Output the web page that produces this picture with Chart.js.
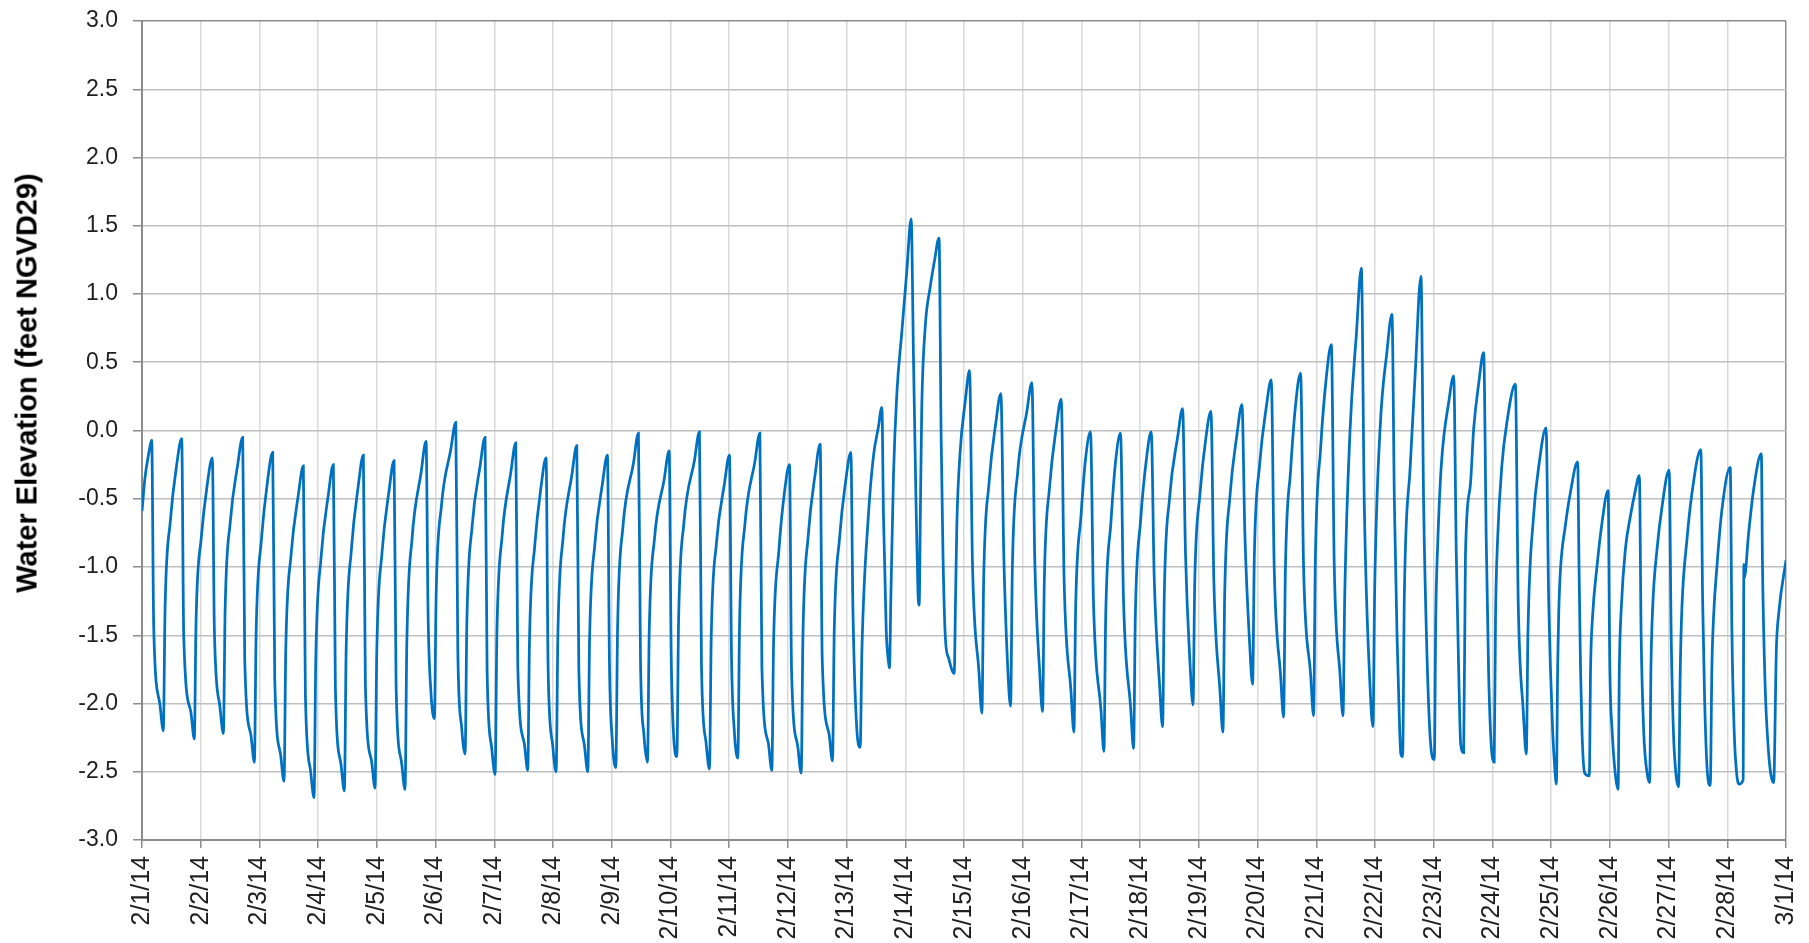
<!DOCTYPE html>
<html>
<head>
<meta charset="utf-8">
<script src="https://cdn.jsdelivr.net/npm/chart.js@4.4.1/dist/chart.umd.min.js"></script>
<style>
  html, body { margin: 0; padding: 0; background: #fff; }
  #wrap { position: relative; width: 1809px; height: 943px; }
  #yTitle {
    position: absolute; left: 27px; top: 383px;
    transform: translate(-50%, -50%) rotate(-90deg);
    font: bold 29px "Liberation Sans", Arial, sans-serif;
    color: #000; white-space: nowrap;
  }
</style>
</head>
<body>
<div id="wrap">
  <canvas id="tideChart" width="1809" height="943"></canvas>
  <div id="yTitle">Water Elevation (feet NGVD29)</div>
</div>
<script>
// Tick labels, one per day
const dateLabels = ['2/1/14','2/2/14','2/3/14','2/4/14','2/5/14','2/6/14','2/7/14','2/8/14','2/9/14','2/10/14',
  '2/11/14','2/12/14','2/13/14','2/14/14','2/15/14','2/16/14','2/17/14','2/18/14','2/19/14','2/20/14',
  '2/21/14','2/22/14','2/23/14','2/24/14','2/25/14','2/26/14','2/27/14','2/28/14','3/1/14'];

// Readings: days since 2/1/14 00:00 and water elevation (ft)
// week 1
const week1Days = [0.000,0.050,0.110,0.165,
  0.200,0.303,0.363,0.393,0.483,0.591,0.676,
  0.711,0.831,0.891,0.921,1.011,1.113,1.198,
  1.233,1.326,1.386,1.416,1.506,1.630,1.715,
  1.750,1.854,1.914,1.944,2.034,2.141,2.226,
  2.261,2.359,2.419,2.449,2.539,2.663,2.748,
  2.783,2.870,2.930,2.960,3.050,3.174,3.259,
  3.294,3.387,3.447,3.477,3.567,3.685,3.770,
  3.805,3.909,3.969,3.999,4.089,4.208,4.293,
  4.328,4.420,4.480,4.510,4.600,4.753,4.838,
  4.873,4.920,4.980,5.010,5.100,5.259,5.344,
  5.379,5.443,5.503,5.533,5.623,5.758,5.843,
  5.878,5.954,6.014,6.044,6.134,6.281,6.366,
  6.401,6.510,6.570,6.600,6.690,6.797,6.882];
const week1Elev = [-0.59,-0.35,-0.18,-0.07,
  -1.45,-2.00,-2.20,-1.30,-0.66,-0.25,-0.06,
  -1.51,-2.06,-2.26,-1.39,-0.78,-0.39,-0.20,
  -1.47,-2.02,-2.22,-1.31,-0.66,-0.25,-0.05,
  -1.68,-2.23,-2.43,-1.48,-0.80,-0.36,-0.16,
  -1.82,-2.37,-2.57,-1.60,-0.91,-0.47,-0.26,
  -1.94,-2.49,-2.69,-1.67,-0.93,-0.47,-0.25,
  -1.89,-2.44,-2.64,-1.61,-0.87,-0.40,-0.18,
  -1.87,-2.42,-2.62,-1.61,-0.89,-0.44,-0.22,
  -1.88,-2.43,-2.63,-1.56,-0.79,-0.31,-0.08,
  -1.36,-1.91,-2.11,-1.20,-0.55,-0.14,0.06,
  -1.62,-2.17,-2.37,-1.40,-0.70,-0.26,-0.05,
  -1.77,-2.32,-2.52,-1.50,-0.77,-0.31,-0.09,
  -1.74,-2.29,-2.49,-1.53,-0.84,-0.41,-0.20];

// week 2
const week2Days = [6.917,6.993,7.053,7.083,7.173,7.320,7.405,
  7.440,7.533,7.593,7.623,7.713,7.842,7.927,
  7.962,8.010,8.070,8.100,8.190,8.370,8.455,
  8.490,8.549,8.609,8.639,8.729,8.893,8.978,
  9.013,9.049,9.109,9.139,9.229,9.409,9.494,
  9.529,9.605,9.665,9.695,9.785,9.920,10.005,
  10.040,10.088,10.148,10.178,10.268,10.438,10.523,
  10.558,10.667,10.727,10.757,10.847,10.943,11.028,
  11.063,11.167,11.227,11.257,11.347,11.465,11.550,
  11.585,11.700,11.760,11.790,11.880,11.988,12.073,
  12.108,12.172,12.232,12.262,12.372,12.460,12.540,12.601,
  12.629,12.675,12.715,12.731,12.754,12.799,12.856,12.941,13.026,13.100,
  13.140,13.180,13.215,13.237,13.254,13.280,13.340,13.424,13.500,13.575,
  13.610,13.643,13.683,13.740,13.833,13.856,13.878,13.935,14.020,14.094];
const week2Elev = [-1.75,-2.30,-2.50,-1.50,-0.78,-0.33,-0.11,
  -1.75,-2.30,-2.50,-1.53,-0.83,-0.39,-0.18,
  -1.72,-2.27,-2.47,-1.44,-0.71,-0.24,-0.02,
  -1.68,-2.23,-2.43,-1.47,-0.79,-0.36,-0.15,
  -1.64,-2.19,-2.39,-1.39,-0.68,-0.22,-0.01,
  -1.73,-2.28,-2.48,-1.51,-0.82,-0.39,-0.18,
  -1.65,-2.20,-2.40,-1.40,-0.69,-0.23,-0.02,
  -1.74,-2.29,-2.49,-1.55,-0.88,-0.45,-0.25,
  -1.76,-2.31,-2.51,-1.50,-0.77,-0.32,-0.10,
  -1.67,-2.22,-2.42,-1.47,-0.79,-0.36,-0.16,
  -1.30,-2.17,-2.32,-1.60,-0.62,-0.18,0.02,0.17,
  -0.63,-1.46,-1.70,-1.74,-1.23,-0.33,0.27,0.72,1.17,1.55,
  0.52,-0.46,-1.17,-1.28,-0.70,0.15,0.76,1.05,1.25,1.41,
  -0.03,-0.93,-1.52,-1.67,-1.78,-1.23,-0.69,-0.15,0.21,0.44];

// week 3
const week3Days = [14.144,14.255,14.305,14.335,14.425,14.543,14.628,
  14.678,14.743,14.793,14.823,14.913,15.071,15.156,
  15.206,15.288,15.338,15.368,15.458,15.571,15.656,
  15.706,15.822,15.872,15.902,15.992,16.070,16.155,
  16.205,16.333,16.383,16.413,16.503,16.581,16.666,
  16.716,16.838,16.888,16.918,17.008,17.104,17.189,
  17.239,17.332,17.382,17.412,17.502,17.638,17.723,
  17.773,17.850,17.900,17.930,18.020,18.121,18.206,
  18.256,18.360,18.410,18.440,18.530,18.649,18.734,
  18.784,18.865,18.915,18.945,19.035,19.148,19.233,
  19.283,19.393,19.443,19.473,19.563,19.648,19.733,
  19.783,19.904,19.954,19.984,20.074,20.171,20.256,
  20.306,20.405,20.455,20.485,20.575,20.682,20.767,
  20.818,20.915,20.965,20.995,21.085,21.204,21.289];
const week3Elev = [-0.97,-1.77,-2.07,-1.09,-0.39,0.06,0.27,
  -0.92,-1.72,-2.02,-1.02,-0.31,0.14,0.35,
  -0.96,-1.76,-2.06,-1.10,-0.41,0.02,0.23,
  -1.11,-1.91,-2.21,-1.29,-0.63,-0.21,-0.01,
  -1.25,-2.05,-2.35,-1.37,-0.67,-0.23,-0.02,
  -1.23,-2.03,-2.33,-1.36,-0.66,-0.22,-0.01,
  -1.07,-1.87,-2.17,-1.19,-0.49,-0.05,0.16,
  -0.91,-1.71,-2.01,-1.11,-0.46,-0.05,0.14,
  -1.11,-1.91,-2.21,-1.20,-0.48,-0.03,0.19,
  -0.76,-1.56,-1.86,-0.92,-0.25,0.17,0.37,
  -1.00,-1.80,-2.10,-1.04,-0.29,0.19,0.42,
  -0.99,-1.79,-2.09,-0.95,-0.13,0.39,0.63,
  -0.99,-1.79,-2.09,-1.20,0.00,0.70,1.19,
  -0.55,-1.87,-2.17,-1.15,0.00,0.58,0.85];

// week 4
const week4Days = [21.330,21.375,21.420,21.440,21.470,21.500,21.600,21.686,21.783,
  21.828,21.885,21.943,22.010,22.035,22.070,22.130,22.260,22.340,
  22.385,22.425,22.460,22.510,22.540,22.624,22.680,22.765,22.850,
  22.895,22.935,22.975,23.030,23.053,23.087,23.160,23.250,23.390,
  23.440,23.527,23.577,23.605,23.700,23.790,23.913,
  23.958,23.987,24.027,24.060,24.089,24.111,24.128,24.156,24.241,24.326,24.452,
  24.475,24.500,24.526,24.571,24.650,24.672,24.706,24.780,24.865,24.970,
  24.999,25.040,25.096,25.140,25.162,25.196,25.264,25.349,25.420,25.503,
  25.532,25.577,25.634,25.678,25.700,25.730,25.803,25.888,26.010,
  26.044,26.083,26.129,26.170,26.200,26.228,26.313,26.398,26.550,
  26.580,26.614,26.654,26.710,26.738,26.767,26.823,26.909,27.050,
  27.079,27.118,27.164,27.206,27.270,27.283,27.290,27.364,27.449,27.580,
  27.600,27.643,27.700,27.746,27.790,27.836,27.876,28.000];
const week4Elev = [-0.53,-1.50,-2.19,-2.37,-2.39,-1.20,-0.26,0.43,1.13,
  -0.53,-1.64,-2.27,-2.41,-1.36,-0.81,-0.25,0.22,0.40,
  -0.92,-1.75,-2.30,-2.36,-0.92,-0.40,0.01,0.34,0.57,
  -0.81,-1.77,-2.27,-2.43,-1.36,-0.81,-0.26,0.07,0.34,
  -1.27,-2.07,-2.37,-1.48,-0.63,-0.26,0.02,
  -1.24,-1.73,-2.21,-2.46,-2.59,-1.73,-1.36,-1.04,-0.70,-0.46,-0.23,
  -1.00,-1.73,-2.21,-2.51,-2.53,-1.73,-1.36,-1.00,-0.68,-0.44,
  -1.73,-2.21,-2.53,-2.63,-1.73,-1.29,-0.87,-0.63,-0.47,-0.33,
  -1.48,-2.21,-2.51,-2.58,-1.73,-1.29,-0.87,-0.56,-0.29,
  -1.48,-2.21,-2.53,-2.61,-1.73,-1.29,-0.80,-0.46,-0.14,
  -1.24,-1.97,-2.46,-2.60,-1.73,-1.36,-1.00,-0.58,-0.27,
  -1.48,-2.21,-2.53,-2.59,-2.56,-0.98,-1.08,-0.75,-0.43,-0.17,
  -1.00,-1.85,-2.34,-2.53,-2.58,-1.60,-1.34,-0.95];

// Join the weeks into x/y points
const allDays = [].concat(week1Days, week2Days, week3Days, week4Days);
const allElev = [].concat(week1Elev, week2Elev, week3Elev, week4Elev);
const elevationPoints = allDays.map((d, i) => ({ x: d, y: allElev[i] }));

const fontFamily = '"Liberation Sans", Arial, sans-serif';

const tideCanvas = document.querySelector('#tideChart');
const tideChart = new Chart(tideCanvas, {
  type: 'line',
  data: {
    datasets: [{
      data: elevationPoints,
      borderColor: '#0070C0',
      borderWidth: 2.75,
      pointRadius: 0,
      fill: false,
      cubicInterpolationMode: 'monotone'
    }]
  },
  options: {
    responsive: false,
    animation: false,
    devicePixelRatio: 1,
    layout: { padding: { top: 21, right: 23, bottom: 0, left: 0 } },
    plugins: { legend: { display: false }, tooltip: { enabled: false } },
    scales: {
      x: {
        type: 'linear',
        min: 0,
        max: 28,
        afterBuildTicks: function (scale) {
          scale.ticks = dateLabels.map((_, i) => ({ value: i }));
        },
        afterFit: function (scale) {
          scale.height = 103;
          scale.paddingLeft = 0;
          scale.paddingRight = 0;
        },
        ticks: {
          autoSkip: false,
          minRotation: 90,
          maxRotation: 90,
          padding: 8,
          color: '#1f1f1f',
          font: { family: fontFamily, size: 25 },
          callback: v => dateLabels[Math.round(v)]
        },
        grid: {
          color: c => (c.tick && c.tick.value === 28 ? '#8c8c8c' : '#d9d9d9'),
          lineWidth: 1.5,
          tickLength: 8,
          tickColor: '#8c8c8c'
        },
        border: { color: '#8c8c8c', width: 2 }
      },
      y: {
        min: -3,
        max: 3,
        afterFit: function (scale) {
          scale.width = 142;
          scale.paddingTop = 0;
          scale.paddingBottom = 0;
        },
        ticks: {
          stepSize: 0.5,
          padding: 15,
          color: '#1f1f1f',
          font: { family: fontFamily, size: 23 },
          callback: v => v.toFixed(1)
        },
        grid: {
          color: c => (c.tick && c.tick.value === 3 ? '#8c8c8c' : '#bfbfbf'),
          lineWidth: 1.5,
          tickLength: 9,
          tickColor: '#8c8c8c'
        },
        border: { color: '#8c8c8c', width: 2 }
      }
    }
  }
});
</script>
</body>
</html>
